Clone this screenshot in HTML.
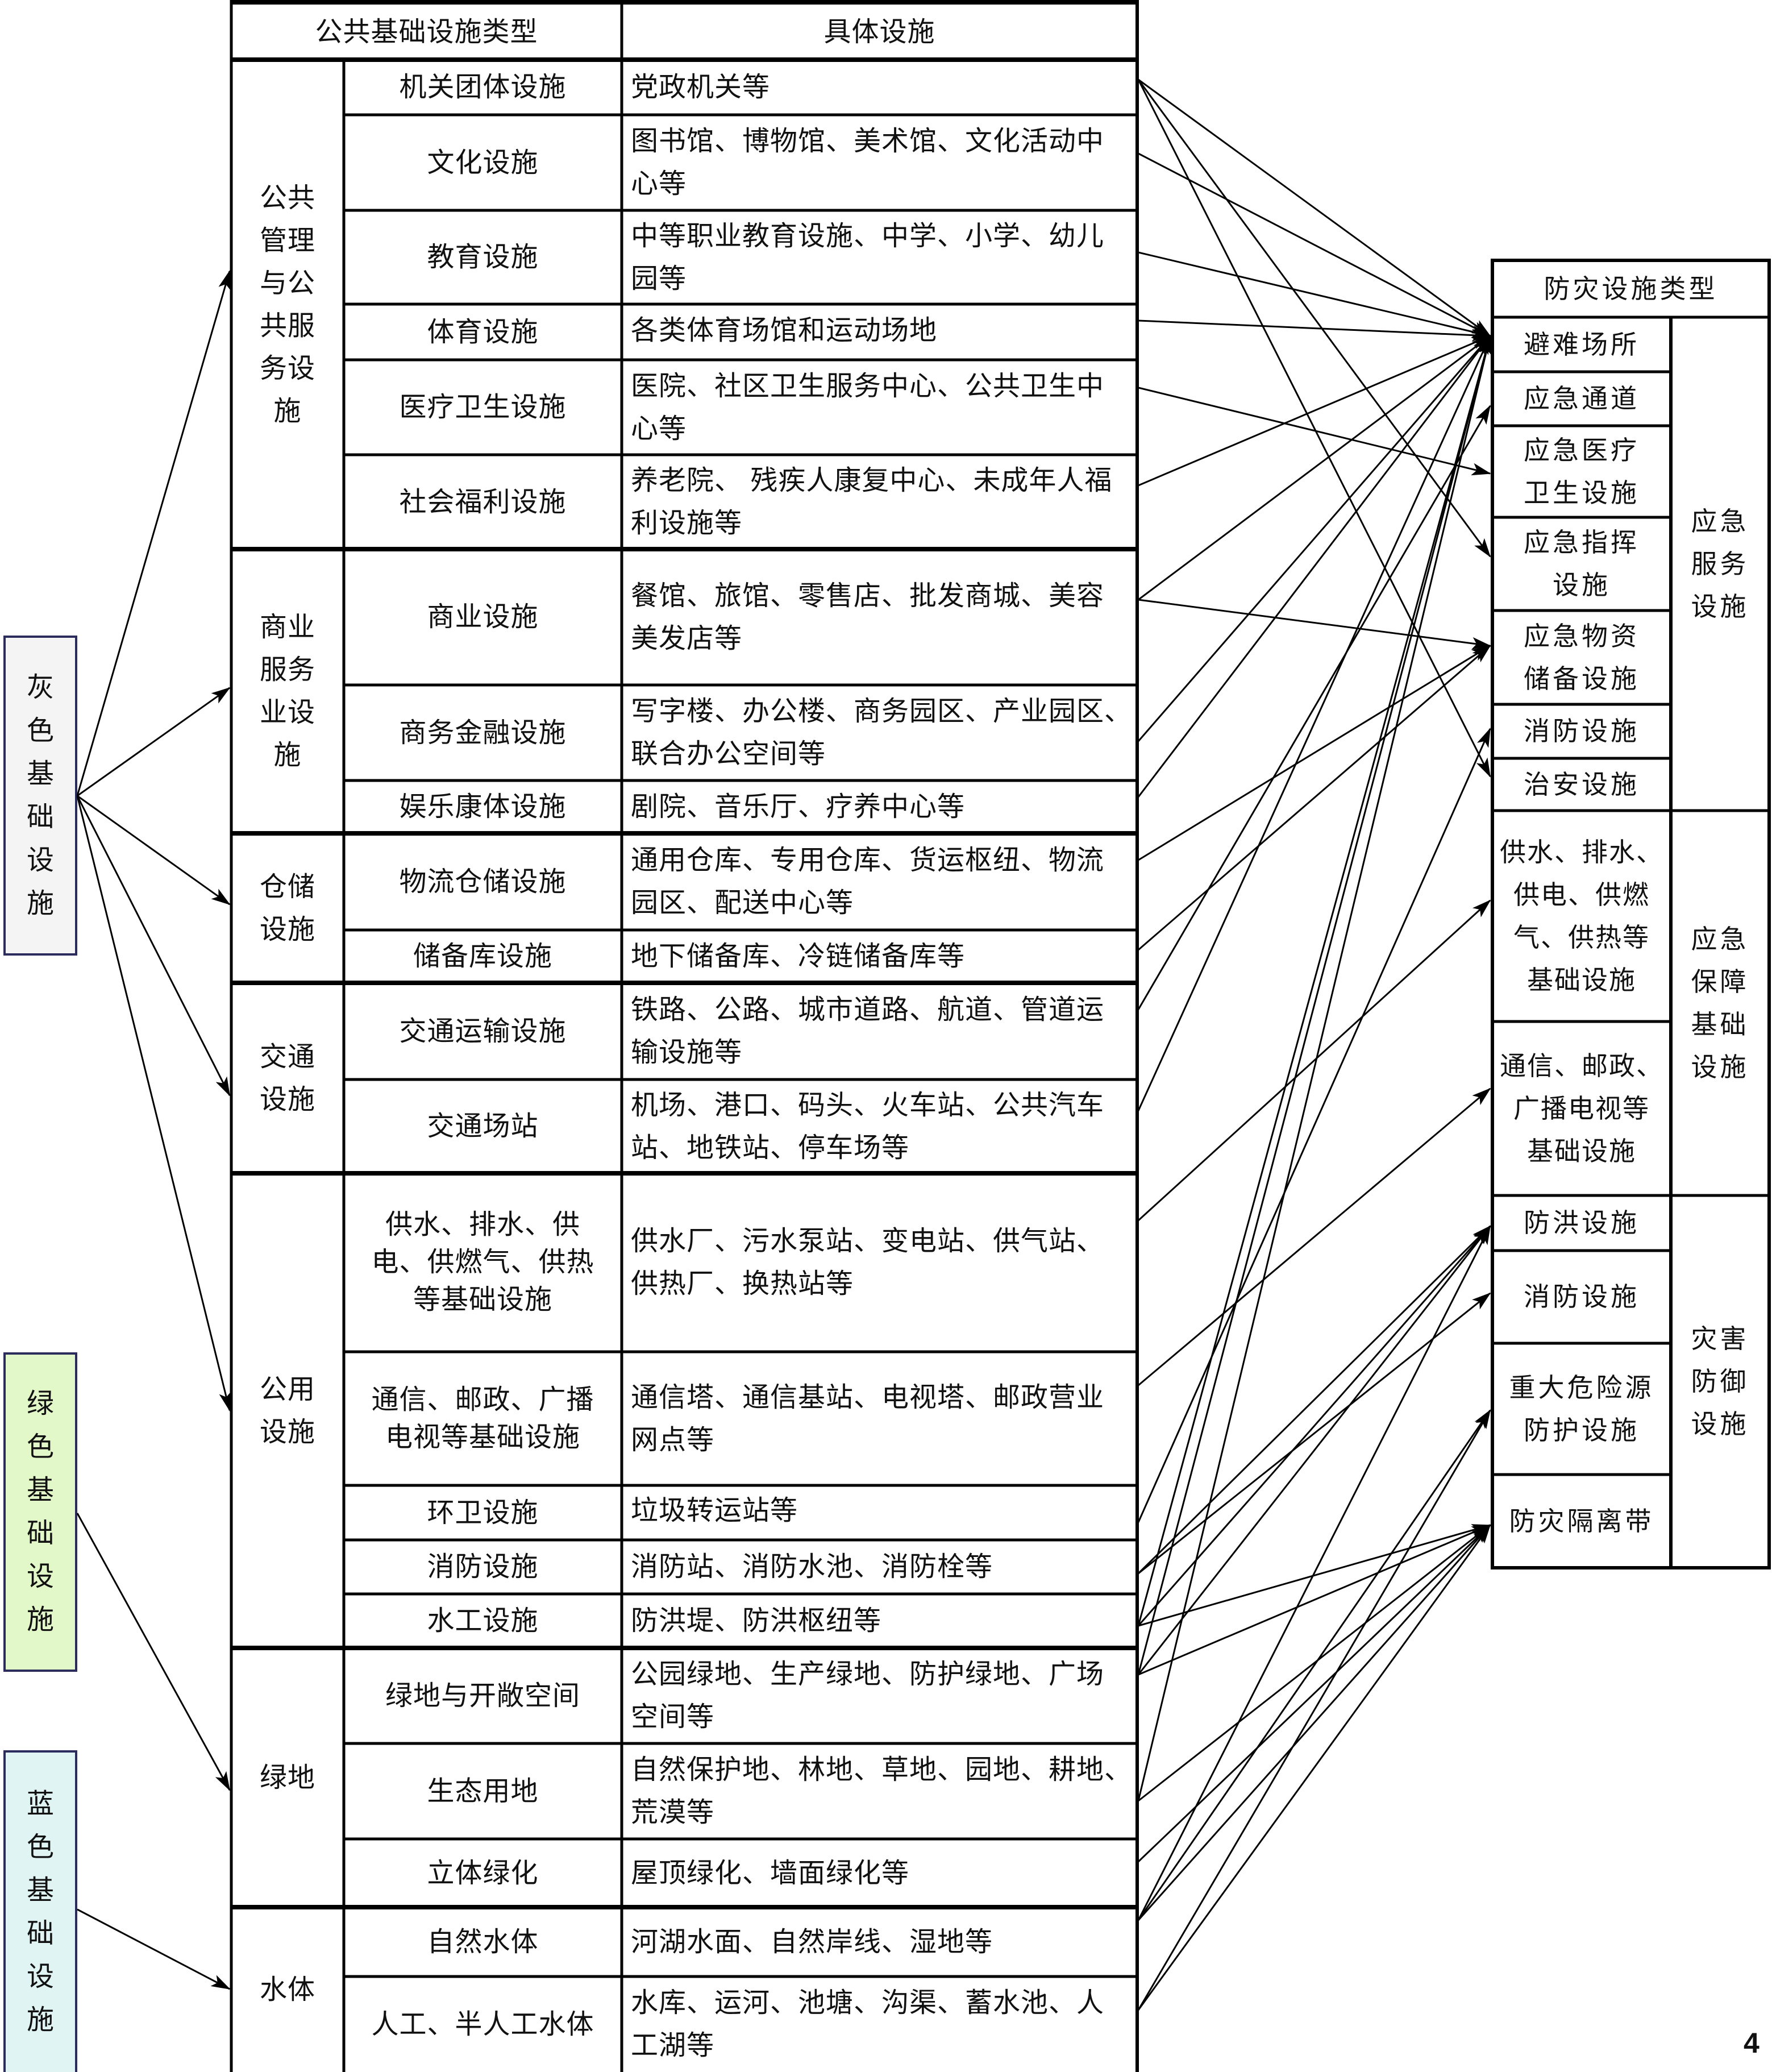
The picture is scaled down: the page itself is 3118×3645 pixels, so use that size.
<!DOCTYPE html>
<html><head><meta charset="utf-8">
<style>
html,body{margin:0;padding:0;background:#fff;}
#wrap{position:relative;width:3118px;height:3645px;overflow:hidden;background:#fff;
font-family:"Liberation Sans","Noto Sans CJK SC",sans-serif;color:#111;}
.c{position:absolute;display:flex;align-items:center;justify-content:center;text-align:center;
font-size:48px;line-height:75px;white-space:nowrap;letter-spacing:1px;}
.l{position:absolute;display:flex;align-items:center;justify-content:flex-start;text-align:left;
font-size:48px;line-height:75px;white-space:nowrap;letter-spacing:1px;}
.r{position:absolute;display:flex;align-items:center;justify-content:center;text-align:center;
font-size:46px;line-height:75px;white-space:nowrap;letter-spacing:5px;}
.box{position:absolute;border:4px solid #2b2b5c;box-sizing:border-box;display:flex;align-items:center;justify-content:center;
font-size:48px;line-height:76px;text-align:center;}
svg{position:absolute;left:0;top:0;}
</style></head><body><div id="wrap">

<div class="box" style="left:6px;top:1118px;width:130px;height:563px;background:#f4f4f4;">灰<br>色<br>基<br>础<br>设<br>施</div>
<div class="box" style="left:6px;top:2379px;width:130px;height:562px;background:#e3f8c9;">绿<br>色<br>基<br>础<br>设<br>施</div>
<div class="box" style="left:6px;top:3079px;width:130px;height:570px;background:#e0f4f4;">蓝<br>色<br>基<br>础<br>设<br>施</div>

<!-- left table header -->
<div class="c" style="left:407px;top:8px;width:687px;height:97px;">公共基础设施类型</div>
<div class="c" style="left:1094px;top:8px;width:907px;height:97px;">具体设施</div>

<!-- col1 groups -->
<div class="c" style="left:407px;top:105px;width:198px;height:861px;">公共<br>管理<br>与公<br>共服<br>务设<br>施</div>
<div class="c" style="left:407px;top:966px;width:198px;height:500px;">商业<br>服务<br>业设<br>施</div>
<div class="c" style="left:407px;top:1466px;width:198px;height:263px;">仓储<br>设施</div>
<div class="c" style="left:407px;top:1729px;width:198px;height:335px;">交通<br>设施</div>
<div class="c" style="left:407px;top:2064px;width:198px;height:835px;">公用<br>设施</div>
<div class="c" style="left:407px;top:2899px;width:198px;height:456px;">绿地</div>
<div class="c" style="left:407px;top:3355px;width:198px;height:290px;">水体</div>

<!-- col2 / col3 -->
<div class="c" style="left:605px;top:105px;width:489px;height:97px;">机关团体设施</div>
<div class="l" style="left:1110px;top:105px;width:890px;height:97px;">党政机关等</div>
<div class="c" style="left:605px;top:202px;width:489px;height:168px;">文化设施</div>
<div class="l" style="left:1110px;top:202px;width:890px;height:168px;">图书馆、博物馆、美术馆、文化活动中<br>心等</div>
<div class="c" style="left:605px;top:370px;width:489px;height:165px;">教育设施</div>
<div class="l" style="left:1110px;top:370px;width:890px;height:165px;">中等职业教育设施、中学、小学、幼儿<br>园等</div>
<div class="c" style="left:605px;top:535px;width:489px;height:98px;">体育设施</div>
<div class="l" style="left:1110px;top:535px;width:890px;height:92px;">各类体育场馆和运动场地</div>
<div class="c" style="left:605px;top:633px;width:489px;height:167px;">医疗卫生设施</div>
<div class="l" style="left:1110px;top:633px;width:890px;height:167px;">医院、社区卫生服务中心、公共卫生中<br>心等</div>
<div class="c" style="left:605px;top:800px;width:489px;height:166px;">社会福利设施</div>
<div class="l" style="left:1110px;top:800px;width:890px;height:166px;">养老院、 残疾人康复中心、未成年人福<br>利设施等</div>
<div class="c" style="left:605px;top:966px;width:489px;height:239px;">商业设施</div>
<div class="l" style="left:1110px;top:966px;width:890px;height:239px;">餐馆、旅馆、零售店、批发商城、美容<br>美发店等</div>
<div class="c" style="left:605px;top:1205px;width:489px;height:168px;">商务金融设施</div>
<div class="l" style="left:1110px;top:1205px;width:890px;height:168px;">写字楼、办公楼、商务园区、产业园区、<br>联合办公空间等</div>
<div class="c" style="left:605px;top:1373px;width:489px;height:93px;">娱乐康体设施</div>
<div class="l" style="left:1110px;top:1373px;width:890px;height:93px;">剧院、音乐厅、疗养中心等</div>
<div class="c" style="left:605px;top:1466px;width:489px;height:170px;">物流仓储设施</div>
<div class="l" style="left:1110px;top:1466px;width:890px;height:170px;">通用仓库、专用仓库、货运枢纽、物流<br>园区、配送中心等</div>
<div class="c" style="left:605px;top:1636px;width:489px;height:93px;">储备库设施</div>
<div class="l" style="left:1110px;top:1636px;width:890px;height:93px;">地下储备库、冷链储备库等</div>
<div class="c" style="left:605px;top:1729px;width:489px;height:170px;">交通运输设施</div>
<div class="l" style="left:1110px;top:1729px;width:890px;height:170px;">铁路、公路、城市道路、航道、管道运<br>输设施等</div>
<div class="c" style="left:605px;top:1899px;width:489px;height:165px;">交通场站</div>
<div class="l" style="left:1110px;top:1899px;width:890px;height:165px;">机场、港口、码头、火车站、公共汽车<br>站、地铁站、停车场等</div>
<div class="c" style="left:605px;top:2064px;width:489px;height:314px;line-height:66px;">供水、排水、供<br>电、供燃气、供热<br>等基础设施</div>
<div class="l" style="left:1110px;top:2064px;width:890px;height:314px;">供水厂、污水泵站、变电站、供气站、<br>供热厂、换热站等</div>
<div class="c" style="left:605px;top:2378px;width:489px;height:235px;line-height:66px;">通信、邮政、广播<br>电视等基础设施</div>
<div class="l" style="left:1110px;top:2378px;width:890px;height:235px;">通信塔、通信基站、电视塔、邮政营业<br>网点等</div>
<div class="c" style="left:605px;top:2613px;width:489px;height:96px;">环卫设施</div>
<div class="l" style="left:1110px;top:2613px;width:890px;height:88px;">垃圾转运站等</div>
<div class="c" style="left:605px;top:2709px;width:489px;height:95px;">消防设施</div>
<div class="l" style="left:1110px;top:2709px;width:890px;height:95px;">消防站、消防水池、消防栓等</div>
<div class="c" style="left:605px;top:2804px;width:489px;height:95px;">水工设施</div>
<div class="l" style="left:1110px;top:2804px;width:890px;height:95px;">防洪堤、防洪枢纽等</div>
<div class="c" style="left:605px;top:2899px;width:489px;height:168px;">绿地与开敞空间</div>
<div class="l" style="left:1110px;top:2899px;width:890px;height:168px;">公园绿地、生产绿地、防护绿地、广场<br>空间等</div>
<div class="c" style="left:605px;top:3067px;width:489px;height:168px;">生态用地</div>
<div class="l" style="left:1110px;top:3067px;width:890px;height:168px;">自然保护地、林地、草地、园地、耕地、<br>荒漠等</div>
<div class="c" style="left:605px;top:3235px;width:489px;height:120px;">立体绿化</div>
<div class="l" style="left:1110px;top:3235px;width:890px;height:120px;">屋顶绿化、墙面绿化等</div>
<div class="c" style="left:605px;top:3355px;width:489px;height:122px;">自然水体</div>
<div class="l" style="left:1110px;top:3355px;width:890px;height:122px;">河湖水面、自然岸线、湿地等</div>
<div class="c" style="left:605px;top:3477px;width:489px;height:168px;">人工、半人工水体</div>
<div class="l" style="left:1110px;top:3477px;width:890px;height:168px;">水库、运河、池塘、沟渠、蓄水池、人<br>工湖等</div>

<!-- right table -->
<div class="r" style="left:2626px;top:458px;width:487px;height:100px;">防灾设施类型</div>
<div class="r" style="left:2626px;top:558px;width:314px;height:96px;">避难场所</div>
<div class="r" style="left:2626px;top:654px;width:314px;height:95px;">应急通道</div>
<div class="r" style="left:2626px;top:749px;width:314px;height:161px;">应急医疗<br>卫生设施</div>
<div class="r" style="left:2626px;top:910px;width:314px;height:164px;">应急指挥<br>设施</div>
<div class="r" style="left:2626px;top:1074px;width:314px;height:165px;">应急物资<br>储备设施</div>
<div class="r" style="left:2626px;top:1239px;width:314px;height:95px;">消防设施</div>
<div class="r" style="left:2626px;top:1334px;width:314px;height:92px;">治安设施</div>
<div class="r" style="left:2626px;top:1426px;width:314px;height:371px;letter-spacing:2px;">供水、排水、<br>供电、供燃<br>气、供热等<br>基础设施</div>
<div class="r" style="left:2626px;top:1797px;width:314px;height:306px;letter-spacing:2px;">通信、邮政、<br>广播电视等<br>基础设施</div>
<div class="r" style="left:2626px;top:2103px;width:314px;height:97px;">防洪设施</div>
<div class="r" style="left:2626px;top:2200px;width:314px;height:163px;">消防设施</div>
<div class="r" style="left:2626px;top:2363px;width:314px;height:231px;">重大危险源<br>防护设施</div>
<div class="r" style="left:2626px;top:2594px;width:314px;height:164px;">防灾隔离带</div>
<div class="r" style="left:2940px;top:558px;width:173px;height:868px;">应急<br>服务<br>设施</div>
<div class="r" style="left:2940px;top:1426px;width:173px;height:677px;">应急<br>保障<br>基础<br>设施</div>
<div class="r" style="left:2940px;top:2103px;width:173px;height:655px;">灾害<br>防御<br>设施</div>

<div style="position:absolute;left:3068px;top:3565px;font-size:50px;font-weight:bold;font-family:'Liberation Sans',sans-serif;">4</div>

<svg width="3118" height="3645" viewBox="0 0 3118 3645">
<defs>
<marker id="a" markerUnits="userSpaceOnUse" markerWidth="34" markerHeight="22" refX="32" refY="11" orient="auto">
<path d="M0,0 L34,11 L0,22 L8,11 z" fill="#000"/>
</marker>
</defs>
<g stroke="#000" fill="none">
<!-- left table verticals -->
<line x1="407" y1="0" x2="407" y2="3645" stroke-width="5"/>
<line x1="605" y1="105" x2="605" y2="3645" stroke-width="5"/>
<line x1="1094" y1="0" x2="1094" y2="3645" stroke-width="5"/>
<line x1="2001" y1="0" x2="2001" y2="3645" stroke-width="6"/>
<g stroke-width="8">
<line x1="405" y1="4" x2="2004" y2="4"/>
<line x1="405" y1="105" x2="2004" y2="105"/>
<line x1="405" y1="966" x2="2004" y2="966"/>
<line x1="405" y1="1466" x2="2004" y2="1466"/>
<line x1="405" y1="1729" x2="2004" y2="1729"/>
<line x1="405" y1="2064" x2="2004" y2="2064"/>
<line x1="405" y1="2899" x2="2004" y2="2899"/>
<line x1="405" y1="3355" x2="2004" y2="3355"/>
</g>
<g stroke-width="5">
<line x1="605" y1="202" x2="2004" y2="202"/>
<line x1="605" y1="370" x2="2004" y2="370"/>
<line x1="605" y1="535" x2="2004" y2="535"/>
<line x1="605" y1="633" x2="2004" y2="633"/>
<line x1="605" y1="800" x2="2004" y2="800"/>
<line x1="605" y1="1205" x2="2004" y2="1205"/>
<line x1="605" y1="1373" x2="2004" y2="1373"/>
<line x1="605" y1="1636" x2="2004" y2="1636"/>
<line x1="605" y1="1899" x2="2004" y2="1899"/>
<line x1="605" y1="2378" x2="2004" y2="2378"/>
<line x1="605" y1="2613" x2="2004" y2="2613"/>
<line x1="605" y1="2709" x2="2004" y2="2709"/>
<line x1="605" y1="2804" x2="2004" y2="2804"/>
<line x1="605" y1="3067" x2="2004" y2="3067"/>
<line x1="605" y1="3235" x2="2004" y2="3235"/>
<line x1="605" y1="3477" x2="2004" y2="3477"/>
</g>
<!-- right table -->
<rect x="2626" y="458" width="487" height="2300" stroke-width="6"/>
<line x1="2626" y1="558" x2="3113" y2="558" stroke-width="5"/>
<line x1="2940" y1="558" x2="2940" y2="2758" stroke-width="6"/>
<line x1="2626" y1="1426" x2="3113" y2="1426" stroke-width="5"/>
<line x1="2626" y1="2103" x2="3113" y2="2103" stroke-width="5"/>
<g stroke-width="5">
<line x1="2626" y1="654" x2="2940" y2="654"/>
<line x1="2626" y1="749" x2="2940" y2="749"/>
<line x1="2626" y1="910" x2="2940" y2="910"/>
<line x1="2626" y1="1074" x2="2940" y2="1074"/>
<line x1="2626" y1="1239" x2="2940" y2="1239"/>
<line x1="2626" y1="1334" x2="2940" y2="1334"/>
<line x1="2626" y1="1797" x2="2940" y2="1797"/>
<line x1="2626" y1="2200" x2="2940" y2="2200"/>
<line x1="2626" y1="2363" x2="2940" y2="2363"/>
<line x1="2626" y1="2594" x2="2940" y2="2594"/>
</g>
<!-- left arrows -->
<g stroke-width="3" marker-end="url(#a)">
<line x1="136" y1="1400" x2="404" y2="477"/>
<line x1="136" y1="1400" x2="404" y2="1210"/>
<line x1="136" y1="1400" x2="404" y2="1591"/>
<line x1="136" y1="1400" x2="404" y2="1927"/>
<line x1="136" y1="1400" x2="404" y2="2481"/>
<line x1="136" y1="2662" x2="404" y2="3149"/>
<line x1="136" y1="3359" x2="404" y2="3499"/>
</g>
<!-- right connectors -->
<g stroke-width="3" marker-end="url(#a)">
<line x1="2003" y1="140" x2="2622" y2="591"/>
<line x1="2003" y1="140" x2="2622" y2="979"/>
<line x1="2003" y1="140" x2="2622" y2="1366"/>
<line x1="2003" y1="270" x2="2622" y2="591"/>
<line x1="2003" y1="444" x2="2622" y2="591"/>
<line x1="2003" y1="564" x2="2622" y2="591"/>
<line x1="2003" y1="682" x2="2622" y2="833"/>
<line x1="2003" y1="854" x2="2622" y2="591"/>
<line x1="2003" y1="1055" x2="2622" y2="591"/>
<line x1="2003" y1="1055" x2="2622" y2="1136"/>
<line x1="2003" y1="1304" x2="2622" y2="591"/>
<line x1="2003" y1="1402" x2="2622" y2="591"/>
<line x1="2003" y1="1513" x2="2622" y2="1136"/>
<line x1="2003" y1="1671" x2="2622" y2="1136"/>
<line x1="2003" y1="1776" x2="2622" y2="714"/>
<line x1="2003" y1="1954" x2="2622" y2="591"/>
<line x1="2003" y1="2147" x2="2622" y2="1584"/>
<line x1="2003" y1="2437" x2="2622" y2="1915"/>
<line x1="2003" y1="2678" x2="2622" y2="1282"/>
<line x1="2003" y1="2768" x2="2622" y2="2157"/>
<line x1="2003" y1="2768" x2="2622" y2="2275"/>
<line x1="2003" y1="2860" x2="2622" y2="591"/>
<line x1="2003" y1="2860" x2="2622" y2="2157"/>
<line x1="2003" y1="2860" x2="2622" y2="2683"/>
<line x1="2003" y1="2946" x2="2622" y2="591"/>
<line x1="2003" y1="2946" x2="2622" y2="2157"/>
<line x1="2003" y1="2946" x2="2622" y2="2683"/>
<line x1="2003" y1="3168" x2="2622" y2="591"/>
<line x1="2003" y1="3168" x2="2622" y2="2683"/>
<line x1="2003" y1="3275" x2="2622" y2="2683"/>
<line x1="2003" y1="3378" x2="2622" y2="2157"/>
<line x1="2003" y1="3378" x2="2622" y2="2481"/>
<line x1="2003" y1="3378" x2="2622" y2="2683"/>
<line x1="2003" y1="3536" x2="2622" y2="2481"/>
<line x1="2003" y1="3536" x2="2622" y2="2683"/>
</g>
</g>
</svg>
</div></body></html>
